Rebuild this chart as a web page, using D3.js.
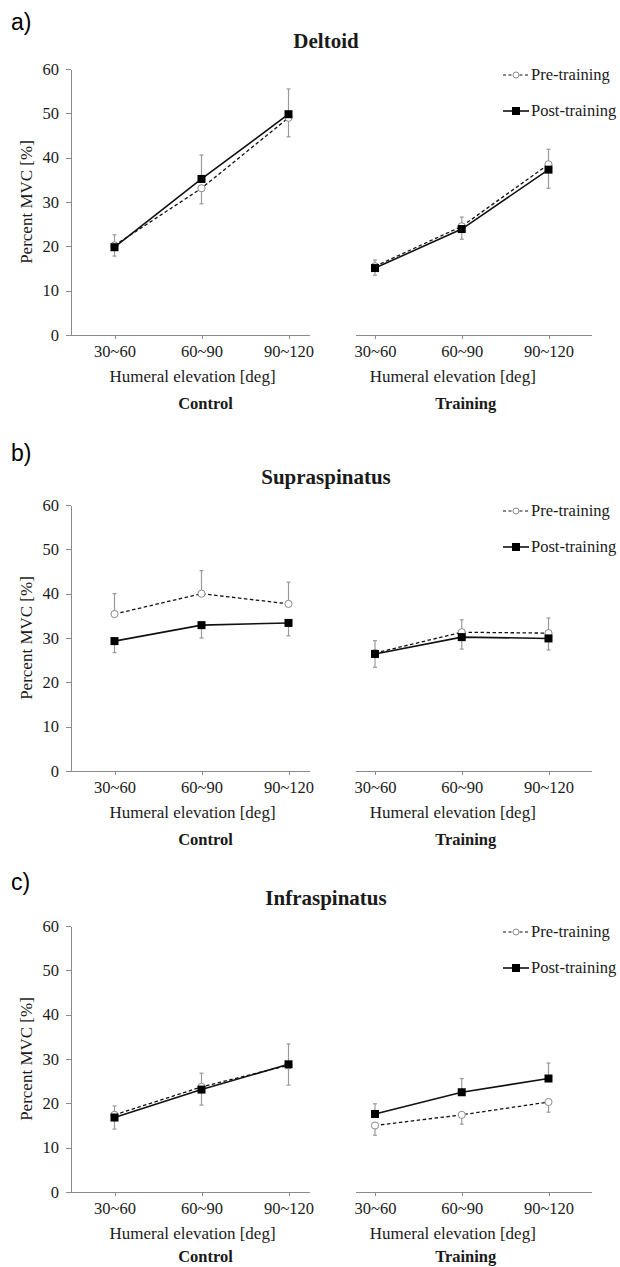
<!DOCTYPE html>
<html lang="en">
<head>
<meta charset="UTF-8">
<title>Percent MVC by humeral elevation</title>
<script src="https://d3js.org/d3.v7.min.js"></script>
<style>
    body {margin: 0; background: #fff}
    .axis path, .axis line {stroke: #8a8a8a; shape-rendering: crispEdges}
</style>
</head>
<body>
<script>
    // ---- data ----
    const categories = ["30~60", "60~90", "90~120"];
    const yTicks = [0, 10, 20, 30, 40, 50, 60];
    const muscles = ["Deltoid", "Supraspinatus", "Infraspinatus"];
    const letters = ["a)", "b)", "c)"];
    const groups = ["Control", "Training"];
    const seriesNames = ["Pre-training", "Post-training"];

    // error values are signed: negative = bar drawn downwards
    const deltoidControlPre     = [20.2, 33.1, 49.0];
    const deltoidControlPreErr  = [-2.4, -3.5, -4.3];
    const deltoidControlPost    = [19.8, 35.2, 49.8];
    const deltoidControlPostErr = [2.8, 5.4, 5.7];
    const deltoidTrainPre       = [15.5, 24.5, 38.5];
    const deltoidTrainPreErr    = [1.4, 2.1, 3.4];
    const deltoidTrainPost      = [15.1, 23.9, 37.3];
    const deltoidTrainPostErr   = [-1.6, -2.3, -4.2];

    const supraControlPre     = [35.4, 40.0, 37.7];
    const supraControlPreErr  = [4.6, 5.2, 4.9];
    const supraControlPost    = [29.3, 32.9, 33.4];
    const supraControlPostErr = [-2.6, -2.9, -2.9];
    const supraTrainPre       = [26.6, 31.3, 31.1];
    const supraTrainPreErr    = [2.8, 2.8, 3.4];
    const supraTrainPost      = [26.4, 30.2, 29.9];
    const supraTrainPostErr   = [-3.0, -2.7, -2.6];

    const infraControlPre     = [17.4, 23.7, 28.6];
    const infraControlPreErr  = [2.0, 3.1, 4.8];
    const infraControlPost    = [16.8, 23.1, 28.8];
    const infraControlPostErr = [-2.6, -3.5, -4.7];
    const infraTrainPre       = [15.0, 17.4, 20.3];
    const infraTrainPreErr    = [-2.2, -2.1, -2.3];
    const infraTrainPost      = [17.6, 22.5, 25.6];
    const infraTrainPostErr   = [2.3, 3.1, 3.5];

    const panels = [
        [[deltoidControlPre, deltoidControlPreErr, deltoidControlPost, deltoidControlPostErr],
         [deltoidTrainPre, deltoidTrainPreErr, deltoidTrainPost, deltoidTrainPostErr]],
        [[supraControlPre, supraControlPreErr, supraControlPost, supraControlPostErr],
         [supraTrainPre, supraTrainPreErr, supraTrainPost, supraTrainPostErr]],
        [[infraControlPre, infraControlPreErr, infraControlPost, infraControlPostErr],
         [infraTrainPre, infraTrainPreErr, infraTrainPost, infraTrainPostErr]]
    ];

    // ---- layout ----
    const width = 620, height = 1267;
    const plotH = 266;
    const panelTop = [69, 505, 926];
    const letterY = [30, 461, 890];
    const groupLabelDy = [74, 74, 70];   // last row sits at the page edge
    // axis line extent and first/last tick for each sub plot
    const sub = [
        {x0: 71, x1: 310, t0: 114.5, t1: 288.5},
        {x0: 356, x1: 592, t0: 375, t1: 548.5}
    ];
    const serif = "'Liberation Serif', 'Times New Roman', Times, serif";

    const svg = d3.select("body").append("svg")
        .attr("width", width)
        .attr("height", height);

    const y = d3.scaleLinear().domain([0, 60]).range([plotH, 0]);

    const linePath = x => d3.line()
        .x((d, i) => x(categories[i]))
        .y(d => y(d));

    panels.forEach((panel, p) => {
        const g = svg.append("g").attr("transform", `translate(0,${panelTop[p]})`);

        svg.append("text").attr("class", "letter")
            .attr("x", 11).attr("y", letterY[p])
            .style("font-family", "'Liberation Sans', Arial, sans-serif")
            .style("font-size", "23px")
            .text(letters[p]);

        g.append("text")
            .attr("x", 326).attr("y", -21)
            .attr("text-anchor", "middle")
            .style("font-size", "21px").style("font-weight", "bold")
            .text(muscles[p]);

        // y axis on the control side only
        g.append("g").attr("class", "axis")
            .attr("transform", `translate(${sub[0].x0},0)`)
            .call(d3.axisLeft(y).tickValues(yTicks).tickSize(5).tickPadding(7).tickSizeOuter(0))
            .attr("font-family", null).attr("font-size", null);

        g.append("text")
            .attr("transform", `translate(32,${plotH / 2}) rotate(-90)`)
            .attr("text-anchor", "middle")
            .style("font-size", "17px")
            .text("Percent MVC [%]");

        panel.forEach((s, k) => {
            const [pre, preErr, post, postErr] = s;
            const sp = sub[k];
            const x = d3.scalePoint().domain(categories).range([sp.t0, sp.t1]);

            const ax = g.append("g").attr("class", "axis")
                .attr("transform", `translate(0,${plotH})`)
                .call(d3.axisBottom(x).tickSize(4).tickPadding(6).tickSizeOuter(0))
                .attr("font-family", null).attr("font-size", null);
            ax.select(".domain").attr("d", `M${sp.x0},0H${sp.x1}`);

            const cx = (sp.t0 + sp.t1) / 2;
            g.append("text")
                .attr("x", cx - 9).attr("y", plotH + 47)
                .attr("text-anchor", "middle")
                .style("font-size", "17px")
                .text("Humeral elevation [deg]");
            g.append("text")
                .attr("x", cx + 4).attr("y", plotH + groupLabelDy[p])
                .attr("text-anchor", "middle")
                .style("font-size", "16.5px").style("font-weight", "bold")
                .text(groups[k]);

            // error bars
            [[pre, preErr], [post, postErr]].forEach(([vals, errs]) => {
                const eb = g.append("g").selectAll("g")
                    .data(vals).join("g")
                    .attr("stroke", "#9a9a9a").attr("stroke-width", 1.2);
                eb.append("line")
                    .attr("x1", (d, i) => x(categories[i])).attr("x2", (d, i) => x(categories[i]))
                    .attr("y1", d => y(d))
                    .attr("y2", (d, i) => y(d + errs[i]));
                eb.append("line")
                    .attr("x1", (d, i) => x(categories[i]) - 2).attr("x2", (d, i) => x(categories[i]) + 2)
                    .attr("y1", (d, i) => y(d + errs[i]))
                    .attr("y2", (d, i) => y(d + errs[i]));
            });

            g.append("path")
                .attr("d", linePath(x)(pre))
                .attr("fill", "none").attr("stroke", "#111")
                .attr("stroke-width", 1.3).attr("stroke-dasharray", "3.5,2.5");
            g.append("path")
                .attr("d", linePath(x)(post))
                .attr("fill", "none").attr("stroke", "#111")
                .attr("stroke-width", 1.6);

            g.append("g").selectAll("circle")
                .data(pre).join("circle")
                .attr("cx", (d, i) => x(categories[i]))
                .attr("cy", d => y(d))
                .attr("r", 3.6)
                .attr("fill", "#fff").attr("stroke", "#8a8a8a").attr("stroke-width", 1);
            g.append("g").selectAll("rect")
                .data(post).join("rect")
                .attr("x", (d, i) => x(categories[i]) - 4)
                .attr("y", d => y(d) - 4)
                .attr("width", 8).attr("height", 8)
                .attr("fill", "#000");
        });

        // legend
        const lg = g.append("g").attr("transform", "translate(503,6)");
        seriesNames.forEach((name, i) => {
            const row = lg.append("g").attr("transform", `translate(0,${i * 36})`);
            row.append("line")
                .attr("x1", 0).attr("x2", 26)
                .attr("stroke", "#111")
                .attr("stroke-width", i ? 1.6 : 1.2)
                .attr("stroke-dasharray", i ? null : "3,2.5");
            if (i === 0) {
                row.append("circle").attr("cx", 13).attr("r", 3)
                    .attr("fill", "#fff").attr("stroke", "#8a8a8a");
            } else {
                row.append("rect").attr("x", 9).attr("y", -4)
                    .attr("width", 8).attr("height", 8).attr("fill", "#000");
            }
            row.append("text")
                .attr("x", 28).attr("dy", "0.32em")
                .style("font-size", "16.5px")
                .text(name);
        });
    });

    // serif text everywhere except the panel letters
    svg.selectAll("text:not(.letter)")
        .style("font-family", serif)
        .style("fill", "#1a1a1a");
    svg.selectAll(".axis text").style("font-size", "16.5px");
</script>
</body>
</html>
